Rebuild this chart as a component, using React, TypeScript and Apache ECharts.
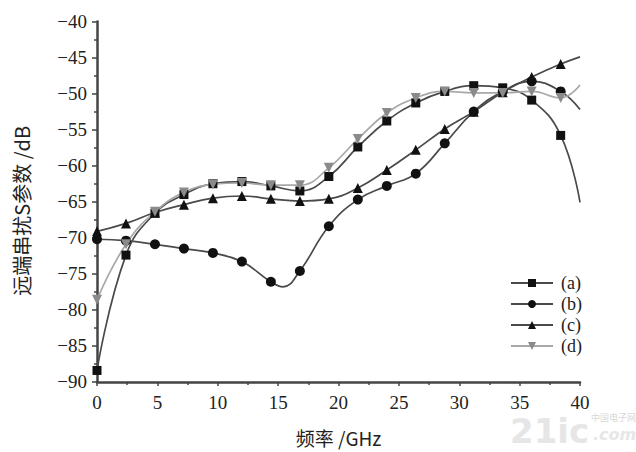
import React, { useEffect, useRef } from "react";
import * as echarts from "echarts";

const freqs = [0, 2.4, 4.8, 7.2, 9.6, 12.0, 14.4, 16.8, 19.2, 21.6, 24.0, 26.4, 28.8, 31.2, 33.6, 36.0, 38.4];
const endFreq = 40;

const seriesA = [-88.4, -72.4, -66.6, -64.0, -62.5, -62.2, -62.8, -63.5, -61.5, -57.4, -53.8, -51.3, -49.7, -48.9, -49.2, -50.9, -55.8];
const endA = -65.1;
const seriesB = [-70.2, -70.4, -70.9, -71.5, -72.1, -73.3, -76.1, -74.6, -68.4, -64.7, -62.8, -61.1, -56.9, -52.5, -49.7, -48.3, -49.7];
const endB = -52.2;
// lowest point of curve (b)
const dipB: [number, number] = [15.4, -76.8];
const seriesC = [-69.1, -68.0, -66.5, -65.4, -64.5, -64.2, -64.6, -64.9, -64.6, -63.1, -60.6, -57.8, -54.9, -52.5, -49.8, -47.7, -45.9];
const endC = -44.9;
const seriesD = [-78.6, -70.9, -66.4, -63.7, -62.6, -62.4, -62.7, -62.7, -60.3, -56.3, -52.7, -50.6, -49.7, -49.9, -49.9, -49.7, -50.6];
const endD = -48.8;

const legendNames = ["(a)", "(b)", "(c)", "(d)"];

function build(vals: number[], end: number, extra?: [number, number]) {
  const d: any[] = freqs.map((f, i) => [f, vals[i]]);
  if (extra) {
    const idx = d.findIndex((p) => Array.isArray(p) && p[0] > extra[0]);
    d.splice(idx, 0, { value: extra, symbol: "none" });
  }
  d.push({ value: [endFreq, end], symbol: "none" });
  return d;
}

export default function App() {
  const ref = useRef<HTMLDivElement>(null);
  useEffect(() => {
    const chart = echarts.init(ref.current!, undefined, { renderer: "svg" });
    const serif = "'Liberation Serif', 'Times New Roman', serif";
    const cjk = "Noto Sans CJK SC";
    const mk = (name: string, d: any[], symbol: string, lineColor: string, markColor: string, rotate = 0) => ({
      name,
      type: "line",
      smooth: 0.45,
      data: d,
      symbol,
      symbolRotate: rotate,
      symbolSize: symbol === "rect" ? 9 : 10,
      showAllSymbol: true,
      lineStyle: { color: lineColor, width: 1.7 },
      itemStyle: { color: markColor },
      z: 2,
    });
    chart.setOption({
      animation: false,
      backgroundColor: "#fff",
      textStyle: { fontFamily: serif },
      grid: { left: 97, right: 56, top: 21.5, bottom: 69, containLabel: false },
      legend: {
        orient: "vertical",
        left: 505,
        top: 269,
        itemWidth: 42,
        itemHeight: 10,
        itemGap: 3,
        data: legendNames,
        textStyle: { fontFamily: serif, fontSize: 18, color: "#222", padding: [0, 0, 0, 3] },
      },
      xAxis: {
        type: "value",
        min: 0,
        max: 40,
        interval: 5,
        name: "频率 /GHz",
        nameLocation: "middle",
        nameGap: 46,
        nameTextStyle: { fontFamily: cjk, fontSize: 19, color: "#222" },
        axisLine: { lineStyle: { color: "#444", width: 2.5 } },
        axisTick: { show: true, inside: false, length: 4, lineStyle: { color: "#444", width: 1.5 } },
        minorTick: { show: true, splitNumber: 2, length: 3, lineStyle: { color: "#444", width: 1.5 } },
        splitLine: { show: false },
        axisLabel: { fontFamily: serif, fontSize: 19, color: "#222", margin: 11 },
      },
      yAxis: {
        type: "value",
        min: -90,
        max: -40,
        interval: 5,
        name: "远端串扰S参数 /dB",
        nameLocation: "middle",
        nameGap: 66,
        nameTextStyle: { fontFamily: cjk, fontSize: 20, color: "#222", padding: [0, 18, 0, 0] },
        axisLine: { lineStyle: { color: "#444", width: 2.5 } },
        axisTick: { show: true, inside: false, length: 5, lineStyle: { color: "#444", width: 1.5 } },
        minorTick: { show: true, splitNumber: 2, length: 3, lineStyle: { color: "#444", width: 1.5 } },
        splitLine: { show: false },
        axisLabel: {
          fontFamily: serif,
          fontSize: 19,
          color: "#222",
          margin: 10,
          formatter: (v: number) => String(v).replace("-", "−"),
        },
      },
      series: [
        mk("(a)", build(seriesA, endA), "rect", "#4a4a4a", "#111"),
        mk("(b)", build(seriesB, endB, dipB), "circle", "#4a4a4a", "#111"),
        mk("(c)", build(seriesC, endC), "triangle", "#4a4a4a", "#111"),
        mk("(d)", build(seriesD, endD), "triangle", "#a8a8a8", "#8a8a8a", 180),
      ],
      graphic: [
        {
          type: "text",
          left: 510,
          top: 414,
          style: { text: "21ic", font: "bold 34px 'DejaVu Sans'", fill: "#e6e6e6" },
          z: 0,
        },
        {
          type: "text",
          left: 591,
          top: 413,
          style: { text: "中国电子网", font: "9px 'Noto Sans CJK SC'", fill: "#d8d8d8" },
          z: 0,
        },
        {
          type: "text",
          left: 593,
          top: 426,
          style: { text: ".com", font: "italic bold 16px 'DejaVu Sans'", fill: "#e6e6e6" },
          z: 0,
        },
      ],
    });
    return () => chart.dispose();
  }, []);
  return <div ref={ref} style={{ position: "fixed", left: 0, top: 0, width: 636, height: 452 }} />;
}
